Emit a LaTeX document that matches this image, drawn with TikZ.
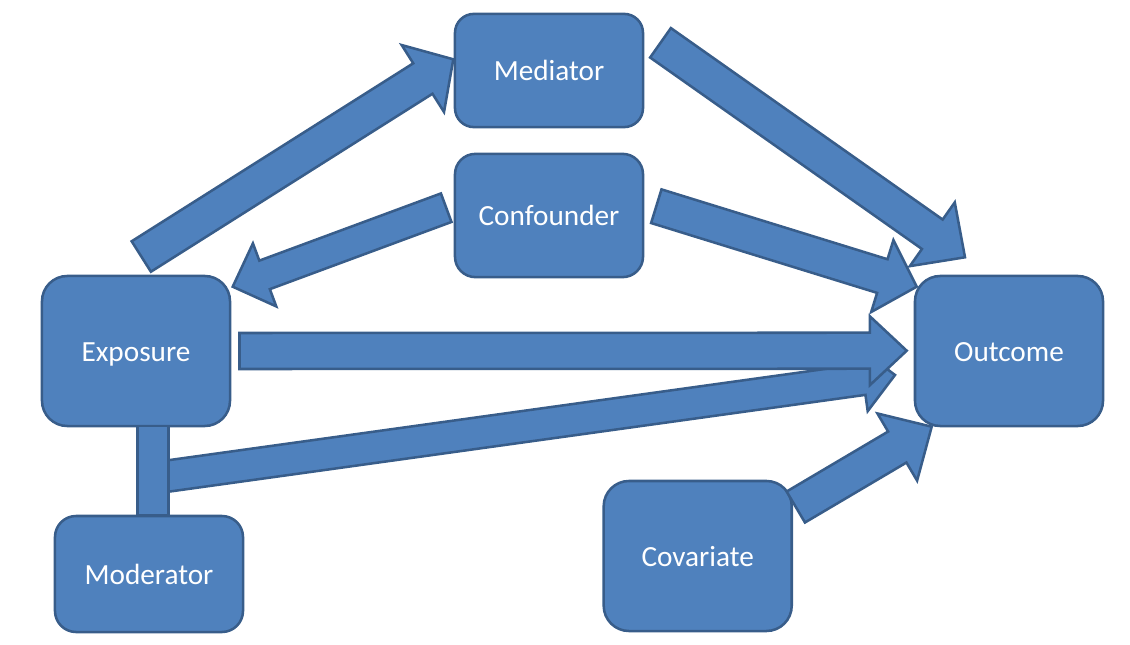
\documentclass[tikz,border=0pt]{standalone}
\usepackage{fontspec}
\setmainfont{Carlito}
\usetikzlibrary{calc}
\definecolor{boxfill}{HTML}{4F81BD}
\definecolor{boxline}{HTML}{385D8A}
\tikzset{
  boxnode/.style={draw=boxline, fill=boxfill, line width=1.8pt, text=white,
    font=\fontsize{20.8}{24}\selectfont, inner sep=0pt, minimum width=4.7cm,
    text height=14.8pt, text depth=0pt},
  blockarrow/.style={draw=boxline, fill=boxfill, line width=1.8pt, line join=miter},
}
\newcommand{\blockarr}[5]{%
  \coordinate (#1#2base) at ($(#2)!#5!(#1)$);
  \draw[blockarrow] ($(#1)!#3!90:(#2)$) -- ($(#1#2base)!#3!-90:(#1)$) --
    ($(#1#2base)!#4!-90:(#1)$) -- (#2) -- ($(#1#2base)!#4!90:(#1)$) --
    ($(#1#2base)!#3!90:(#1)$) -- ($(#1)!#3!-90:(#2)$) -- cycle;
}
\begin{document}
\begin{tikzpicture}[x=0.025cm, y=-0.025cm]
\useasboundingbox (0,0) rectangle (1130,644);
% boxes
\node[boxnode, minimum height=2.83cm, rounded corners=13.5pt] (med) at (549,70.5) {Mediator};
\node[boxnode, minimum height=3.08cm, rounded corners=14.5pt] (conf) at (549,215.5) {Confounder};
\node[boxnode, minimum height=3.75cm, rounded corners=18pt] (expo) at (136,351) {Exposure};
\node[boxnode, minimum height=3.75cm, rounded corners=18pt] (outc) at (1009,351) {Outcome};
\node[boxnode, minimum height=2.9cm, rounded corners=15pt] (mod) at (149,574) {Moderator};
\node[boxnode, minimum height=3.75cm, rounded corners=18pt] (cov) at (697.7,556) {Covariate};
% arrow end points
\coordinate (t1) at (141.3,256.5); \coordinate (h1) at (453.3,59.3);
\coordinate (t2) at (446.2,207.7); \coordinate (h2) at (232.7,286.7);
\coordinate (t3) at (656.3,206.2); \coordinate (h3) at (916.7,286.7);
\coordinate (t4) at (660.5,42.8);  \coordinate (h4) at (965,257.3);
\coordinate (t5) at (239.5,351);   \coordinate (h5) at (906.7,350.7);
\coordinate (t7) at (153,478.1);   \coordinate (h7) at (895,375);
\coordinate (t8) at (795.8,507);   \coordinate (h8) at (931.7,426.7);
\coordinate (bartop) at (137.5,426);
\coordinate (barbot) at (168.5,515.5);
% moderator path (under the bar)
\blockarr{t7}{h7}{0.39cm}{0.8cm}{0.8cm}
\draw[blockarrow] (bartop) rectangle (barbot);
% arrows
\blockarr{t1}{h1}{0.45cm}{0.99cm}{0.9cm}
\blockarr{t2}{h2}{0.38cm}{0.84cm}{0.85cm}
\blockarr{t3}{h3}{0.44cm}{0.94cm}{0.9cm}
\blockarr{t4}{h4}{0.45cm}{0.975cm}{1.0cm}
\blockarr{t5}{h5}{0.45cm}{0.86cm}{0.92cm}
\blockarr{t8}{h8}{0.45cm}{0.975cm}{1.0cm}
\end{tikzpicture}
\end{document}
